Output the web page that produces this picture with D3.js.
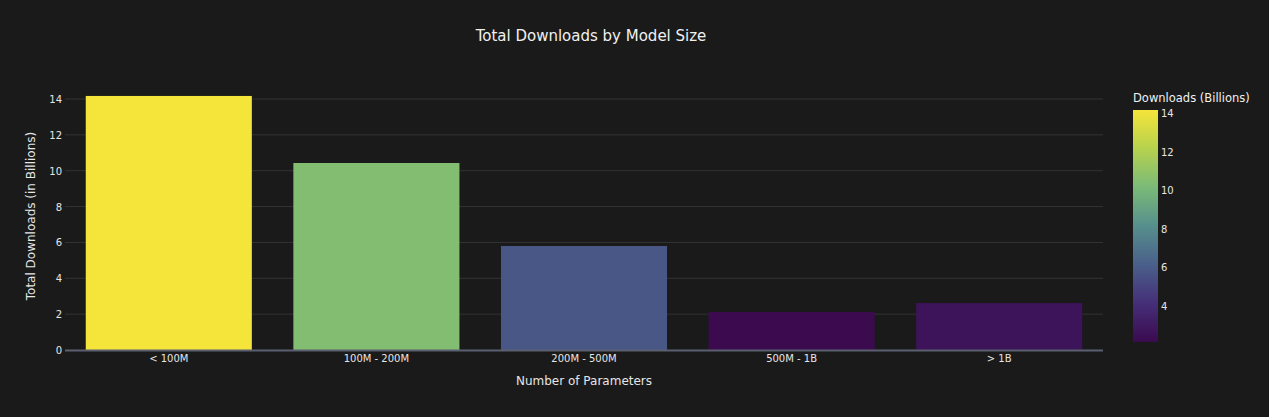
<!DOCTYPE html>
<html><head><meta charset="utf-8">
<script src="https://cdn.jsdelivr.net/npm/d3@7"></script>
<style>body{margin:0;background:#1a1a1a;}svg{display:block;font-family:"DejaVu Sans",Verdana,sans-serif;}</style>
</head><body>
<svg id="c" width="1269" height="417"></svg>
<script>
const categories = ["< 100M","100M - 200M","200M - 500M","500M - 1B","> 1B"];
const downloads = [14.17, 10.43, 5.80, 2.12, 2.62];
const yTicks = [0,2,4,6,8,10,12,14];
const cbTicks = [4,6,8,10,12,14];
const scaleColors = ["#3b0a4f","#452f78","#4a5f8a","#568f8c","#7aba78","#b6d24e","#f5e43a"];

const svg = d3.select("#c");
svg.append("rect").attr("width",1269).attr("height",417).attr("fill","#1a1a1a");
const m = {l:65, r:1103, t:64, b:350};
const x = d3.scaleBand().domain(categories).range([m.l,m.r]).paddingInner(0.2).paddingOuter(0.1);
const y = d3.scaleLinear().domain([0,14]).range([m.b,99]);
const cmin = d3.min(downloads), cmax = d3.max(downloads);
const interp = d3.piecewise(d3.interpolateRgb, scaleColors);
const color = v => interp((v-cmin)/(cmax-cmin));

const g = svg.append("g");
g.selectAll(".grid").data(yTicks.slice(1)).join("line")
 .attr("x1",m.l).attr("x2",m.r).attr("y1",d=>y(d)).attr("y2",d=>y(d))
 .attr("stroke","#333").attr("stroke-width",1);
g.selectAll(".ylab").data(yTicks).join("text")
 .attr("x",m.l-3).attr("y",d=>y(d)+4).attr("text-anchor","end")
 .attr("fill","#e6e6e6").attr("font-size",10).text(d=>d);
g.selectAll(".bar").data(downloads).join("rect")
 .attr("x",(d,i)=>x(categories[i])).attr("width",x.bandwidth())
 .attr("y",d=>y(d)).attr("height",d=>y(0)-y(d)).attr("fill",d=>color(d));
g.append("line").attr("x1",m.l).attr("x2",m.r).attr("y1",m.b+0.5).attr("y2",m.b+0.5)
 .attr("stroke","#5a6070").attr("stroke-width",2);
g.selectAll(".xlab").data(categories).join("text")
 .attr("x",d=>x(d)+x.bandwidth()/2).attr("y",m.b+12).attr("text-anchor","middle")
 .attr("fill","#e6e6e6").attr("font-size",10).text(d=>d);

svg.append("text").attr("x",591).attr("y",41).attr("text-anchor","middle")
 .attr("fill","#f0f0f0").attr("font-size",15).text("Total Downloads by Model Size");
svg.append("text").attr("x",584).attr("y",385).attr("text-anchor","middle")
 .attr("fill","#e6e6e6").attr("font-size",12).text("Number of Parameters");
svg.append("text").attr("transform","translate(35,216) rotate(-90)").attr("text-anchor","middle")
 .attr("fill","#e6e6e6").attr("font-size",12).text("Total Downloads (in Billions)");

// colorbar
const cb = {x:1133, w:25, top:110, bot:342};
const cy = d3.scaleLinear().domain([cmin,cmax]).range([cb.bot,cb.top]);
const defs = svg.append("defs");
const lg = defs.append("linearGradient").attr("id","vg").attr("x1",0).attr("x2",0).attr("y1",1).attr("y2",0);
scaleColors.forEach((c,i)=>lg.append("stop").attr("offset",i/(scaleColors.length-1)).attr("stop-color",c));
svg.append("rect").attr("x",cb.x).attr("y",cb.top).attr("width",cb.w).attr("height",cb.bot-cb.top).attr("fill","url(#vg)");
svg.selectAll(".cbt").data(cbTicks).join("text")
 .attr("x",cb.x+cb.w+3).attr("y",d=>cy(d)+4).attr("fill","#e6e6e6").attr("font-size",10).text(d=>d);
svg.append("text").attr("x",1133).attr("y",102).attr("fill","#f0f0f0").attr("font-size",11.5).text("Downloads (Billions)");
</script>
</body></html>
